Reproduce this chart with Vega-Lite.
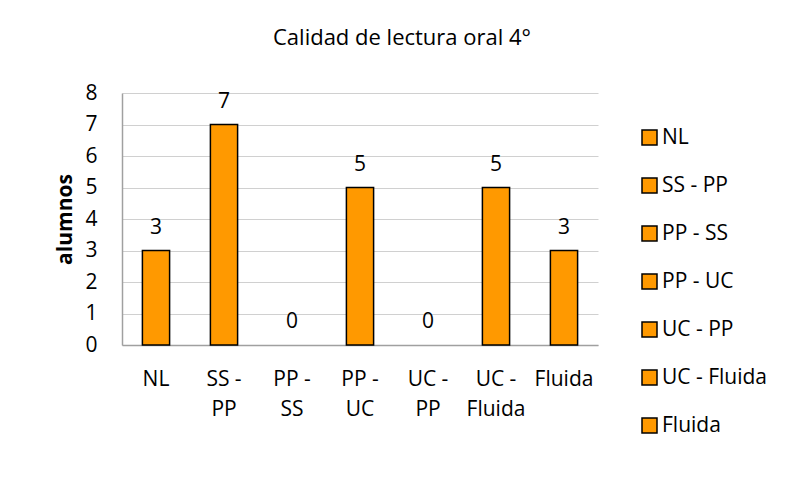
{
  "$schema": "https://vega.github.io/schema/vega-lite/v6.json",
  "autosize": {"type": "none"},
  "width": 476,
  "height": 252,
  "padding": {"left": 122, "top": 93, "right": 197, "bottom": 152},
  "background": "white",
  "config": {
    "font": "Open Sans",
    "view": {"stroke": null}
  },
  "title": {
    "text": "Calidad de lectura oral 4°",
    "fontSize": 22,
    "fontWeight": "normal",
    "color": "#000000",
    "anchor": "middle",
    "offset": 32,
    "dx": 42
  },
  "data": {
    "values": [
      {"cat": "NL", "n": 3},
      {"cat": "SS - PP", "n": 7},
      {"cat": "PP - SS", "n": 0},
      {"cat": "PP - UC", "n": 5},
      {"cat": "UC - PP", "n": 0},
      {"cat": "UC - Fluida", "n": 5},
      {"cat": "Fluida", "n": 3}
    ]
  },
  "encoding": {
    "x": {
      "field": "cat",
      "type": "nominal",
      "sort": null,
      "scale": {
        "domain": ["NL", "SS - PP", "PP - SS", "PP - UC", "UC - PP", "UC - Fluida", "Fluida"],
        "paddingInner": 0.6,
        "paddingOuter": 0.3
      },
      "axis": {
        "title": null,
        "labelAngle": 0,
        "labelFontSize": 21,
        "labelColor": "#000000",
        "labelPadding": 23,
        "labelLineHeight": 30,
        "labelBaseline": "top",
        "labelExpr": "split(replace(datum.label, ' - ', ' -|'), '|')",
        "ticks": false,
        "domainColor": "#a0a0a0",
        "domainWidth": 1.5
      }
    },
    "y": {
      "field": "n",
      "type": "quantitative",
      "scale": {"domain": [0, 8]},
      "axis": {
        "title": "alumnos",
        "titleFontSize": 21,
        "titleFontWeight": "bold",
        "titleColor": "#000000",
        "titlePadding": 9,
        "values": [0, 1, 2, 3, 4, 5, 6, 7, 8],
        "labelFontSize": 21,
        "labelColor": "#000000",
        "labelPadding": 25,
        "ticks": false,
        "grid": true,
        "gridColor": "#d0d0d0",
        "gridWidth": 1,
        "domainColor": "#a0a0a0",
        "domainWidth": 1.5
      }
    }
  },
  "layer": [
    {
      "transform": [{"filter": "datum.n > 0"}],
      "mark": {"type": "bar", "stroke": "#000000", "strokeWidth": 1.5},
      "encoding": {
        "color": {
          "field": "cat",
          "type": "nominal",
          "sort": null,
          "scale": {
            "domain": ["NL", "SS - PP", "PP - SS", "PP - UC", "UC - PP", "UC - Fluida", "Fluida"],
            "range": ["#FF9900", "#FF9900", "#FF9900", "#FF9900", "#FF9900", "#FF9900", "#FF9900"]
          },
          "legend": {
            "title": null,
            "orient": "none",
            "legendX": 517,
            "legendY": 34,
            "symbolType": "square",
            "symbolSize": 225,
            "symbolStrokeColor": "#000000",
            "symbolStrokeWidth": 1.5,
            "symbolOpacity": 1,
            "labelFontSize": 21,
            "labelColor": "#000000",
            "labelOffset": 2,
            "rowPadding": 26,
            "labelLimit": 200
          }
        }
      }
    },
    {
      "mark": {"type": "text", "baseline": "bottom", "dy": -13, "fontSize": 21, "color": "#000000"},
      "encoding": {
        "text": {"field": "n", "type": "quantitative"}
      }
    }
  ]
}
